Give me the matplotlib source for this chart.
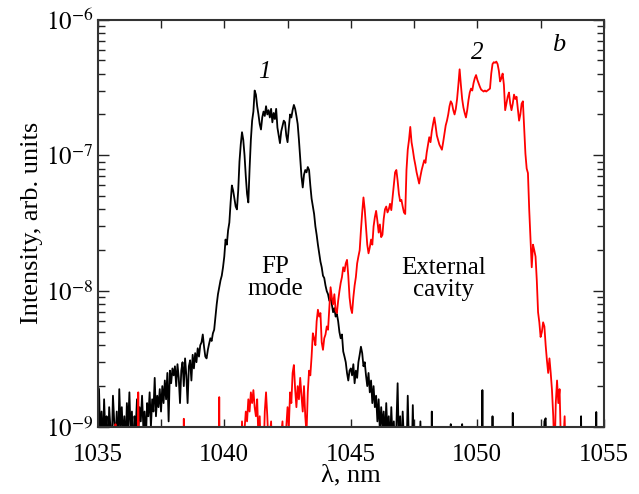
import matplotlib
matplotlib.use("Agg")
import matplotlib.pyplot as plt
import numpy as np
from matplotlib.ticker import MultipleLocator, FixedLocator, FixedFormatter, NullFormatter

# ---------------- data (intensity in units of 1e-9 arb. units) ----------------
black_wl = [
    1035.00, 1035.05, 1035.10, 1035.15, 1035.20, 1035.25, 1035.30, 1035.35, 1035.40, 1035.45,
    1035.50, 1035.55, 1035.60, 1035.65, 1035.70, 1035.75, 1035.80, 1035.85, 1035.90, 1035.95,
    1036.00, 1036.05, 1036.10, 1036.15, 1036.20, 1036.25, 1036.30, 1036.35, 1036.40, 1036.45,
    1036.50, 1036.55, 1036.60, 1036.65, 1036.70, 1036.75, 1036.80, 1036.85, 1036.90, 1036.95,
    1037.00, 1037.05, 1037.10, 1037.15, 1037.20, 1037.25, 1037.30, 1037.35, 1037.40, 1037.45,
    1037.50, 1037.55, 1037.60, 1037.65, 1037.70, 1037.75, 1037.80, 1037.85, 1037.90, 1037.95,
    1038.00, 1038.05, 1038.10, 1038.15, 1038.20, 1038.25, 1038.30, 1038.35, 1038.40, 1038.45,
    1038.50, 1038.55, 1038.60, 1038.65, 1038.70, 1038.75, 1038.80, 1038.85, 1038.90, 1038.95,
    1039.00, 1039.05, 1039.10, 1039.15, 1039.20, 1039.25, 1039.30, 1039.35, 1039.40, 1039.45,
    1039.50, 1039.55, 1039.60, 1039.65, 1039.70, 1039.75, 1039.80, 1039.85, 1039.90, 1039.95,
    1040.00, 1040.05, 1040.10, 1040.15, 1040.20, 1040.25, 1040.30, 1040.35, 1040.40, 1040.45,
    1040.50, 1040.55, 1040.60, 1040.65, 1040.70, 1040.75, 1040.80, 1040.85, 1040.90, 1040.95,
    1041.00, 1041.05, 1041.10, 1041.15, 1041.20, 1041.25, 1041.30, 1041.35, 1041.40, 1041.45,
    1041.50, 1041.55, 1041.60, 1041.65, 1041.70, 1041.75, 1041.80, 1041.85, 1041.90, 1041.95,
    1042.00, 1042.05, 1042.10, 1042.15, 1042.20, 1042.25, 1042.30, 1042.35, 1042.40, 1042.45,
    1042.50, 1042.55, 1042.60, 1042.65, 1042.70, 1042.75, 1042.80, 1042.85, 1042.90, 1042.95,
    1043.00, 1043.05, 1043.10, 1043.15, 1043.20, 1043.25, 1043.30, 1043.35, 1043.40, 1043.45,
    1043.50, 1043.55, 1043.60, 1043.65, 1043.70, 1043.75, 1043.80, 1043.85, 1043.90, 1043.95,
    1044.00, 1044.05, 1044.10, 1044.15, 1044.20, 1044.25, 1044.30, 1044.35, 1044.40, 1044.45,
    1044.50, 1044.55, 1044.60, 1044.65, 1044.70, 1044.75, 1044.80, 1044.85, 1044.90, 1044.95,
    1045.00, 1045.05, 1045.10, 1045.15, 1045.20, 1045.25, 1045.30, 1045.35, 1045.40, 1045.45,
    1045.50, 1045.55, 1045.60, 1045.65, 1045.70, 1045.75, 1045.80, 1045.85, 1045.90, 1045.95,
    1046.00, 1046.05, 1046.10, 1046.15, 1046.20, 1046.25, 1046.30, 1046.35, 1046.40, 1046.45,
    1046.50, 1046.55, 1046.60, 1046.65, 1046.70, 1046.75, 1046.80, 1046.85, 1046.90, 1046.95,
    1047.00, 1047.05, 1047.10, 1047.15, 1047.20, 1047.25, 1047.30, 1047.35, 1047.40, 1047.45,
    1047.50, 1047.60, 1047.70, 1047.75, 1047.80, 1048.00, 1048.18, 1048.20, 1048.22, 1048.93,
    1048.95, 1048.97, 1049.38, 1049.40, 1049.42, 1050.18, 1050.20, 1050.22, 1050.58, 1050.60,
    1050.62, 1051.38, 1051.40, 1051.42, 1052.60, 1052.65, 1052.70, 1052.75, 1054.08, 1054.10,
    1054.12, 1054.68, 1054.70, 1054.72, 1055.00,
]
black_int = [
    2.0, 1.9, 0.8, 1.3, 0.7, 1.6, 0.9, 1.2, 0.6, 1.4,
    1.0, 0.7, 1.7, 1.1, 0.8, 1.3, 0.6, 1.9, 1.0, 1.4,
    0.8, 1.2, 0.7, 1.5, 1.0, 1.8, 0.9, 1.3, 0.6, 1.2,
    1.0, 1.6, 0.9, 1.4, 1.1, 1.7, 1.0, 1.3, 0.8, 1.5,
    1.2, 1.8, 1.0, 1.6, 1.3, 2.3, 1.2, 1.7, 1.4, 1.9,
    1.3, 2.0, 1.5, 2.2, 1.6, 2.5, 1.1, 2.6, 2.1, 2.7,
    2.4, 2.8, 2.0, 2.9, 2.3, 1.5, 2.6, 3.0, 2.0, 3.2,
    2.4, 1.5, 2.8, 3.1, 2.2, 3.4, 2.7, 3.5, 3.0, 3.8,
    3.3, 4.0, 4.2, 4.8, 3.9, 3.3, 3.2, 3.7, 4.1, 4.5,
    4.3, 4.9, 5.2, 6.5, 8.0, 9.5, 10.7, 12.0, 13.0, 15.0,
    18.0, 24.0, 22.0, 28.0, 32.0, 45.0, 60.0, 55.0, 48.0, 42.0,
    40.0, 55.0, 90.0, 120.0, 148.0, 130.0, 100.0, 70.0, 52.0, 45.0,
    80.0, 130.0, 180.0, 210.0, 300.0, 280.0, 230.0, 200.0, 170.0, 155.0,
    190.0, 210.0, 195.0, 230.0, 200.0, 215.0, 190.0, 220.0, 175.0, 205.0,
    185.0, 220.0, 160.0, 140.0, 123.0, 150.0, 165.0, 180.0, 175.0, 140.0,
    125.0, 160.0, 200.0, 190.0, 215.0, 235.0, 220.0, 195.0, 170.0, 130.0,
    95.0, 70.0, 58.0, 72.0, 78.0, 75.0, 82.0, 78.0, 60.0, 48.0,
    42.0, 37.0, 30.0, 26.0, 22.0, 19.0, 16.5, 15.0, 13.0, 12.5,
    11.0, 10.0, 9.5, 8.5, 9.0, 8.0, 7.0, 7.5, 6.5, 6.8,
    6.0, 5.0, 4.5, 4.8, 3.6, 3.3, 3.0, 2.5, 2.2, 2.6,
    2.7, 2.4, 2.9, 2.1, 2.6, 2.3, 3.0, 3.4, 3.9, 3.5,
    2.8, 3.0, 2.4, 2.0, 2.5, 1.8, 2.2, 1.5, 2.0, 1.4,
    1.7, 1.1, 1.6, 0.9, 1.4, 1.0, 1.3, 0.8, 1.5, 0.9,
    1.2, 0.7, 1.4, 0.8, 1.1, 0.6, 1.0, 2.1, 0.7, 1.2,
    0.6, 1.3, 0.8, 1.0, 0.6, 1.7, 0.7, 0.9, 0.5, 1.45,
    0.6, 0.8, 0.5, 1.1, 0.5, 0.5, 0.5, 1.3, 0.5, 0.5,
    1.05, 0.5, 0.5, 1.05, 0.5, 0.5, 1.87, 0.5, 0.5, 1.2,
    0.5, 0.5, 1.27, 0.5, 0.5, 1.1, 1.16, 0.5, 0.5, 1.2,
    0.5, 0.5, 1.29, 0.5, 0.5,
]

red_wl = [
    1035.00, 1035.68, 1035.70, 1035.72, 1036.58, 1036.60, 1036.63, 1038.38, 1038.40, 1038.42,
    1039.78, 1039.80, 1039.82, 1040.65, 1040.70, 1040.75, 1040.85, 1040.90, 1040.95, 1041.00,
    1041.05, 1041.10, 1041.15, 1041.20, 1041.25, 1041.30, 1041.35, 1041.40, 1041.45, 1041.55,
    1041.60, 1041.65, 1041.70, 1041.75, 1041.85, 1041.90, 1042.10, 1042.15, 1042.20, 1042.30,
    1042.35, 1042.45, 1042.50, 1042.55, 1042.60, 1042.65, 1042.70, 1042.75, 1042.80, 1042.85,
    1042.90, 1042.95, 1043.00, 1043.05, 1043.10, 1043.15, 1043.20, 1043.25, 1043.30, 1043.35,
    1043.40, 1043.45, 1043.50, 1043.55, 1043.60, 1043.65, 1043.70, 1043.75, 1043.80, 1043.85,
    1043.90, 1043.95, 1044.00, 1044.05, 1044.10, 1044.15, 1044.20, 1044.25, 1044.30, 1044.35,
    1044.40, 1044.45, 1044.50, 1044.55, 1044.60, 1044.65, 1044.70, 1044.75, 1044.80, 1044.85,
    1044.90, 1044.95, 1045.00, 1045.05, 1045.10, 1045.15, 1045.20, 1045.25, 1045.30, 1045.35,
    1045.40, 1045.45, 1045.50, 1045.55, 1045.60, 1045.65, 1045.70, 1045.75, 1045.80, 1045.85,
    1045.90, 1045.95, 1046.00, 1046.05, 1046.10, 1046.15, 1046.20, 1046.25, 1046.30, 1046.35,
    1046.40, 1046.45, 1046.50, 1046.55, 1046.60, 1046.65, 1046.70, 1046.75, 1046.80, 1046.85,
    1046.90, 1046.95, 1047.00, 1047.05, 1047.10, 1047.15, 1047.20, 1047.25, 1047.30, 1047.35,
    1047.40, 1047.45, 1047.50, 1047.55, 1047.60, 1047.65, 1047.70, 1047.75, 1047.80, 1047.85,
    1047.90, 1047.95, 1048.00, 1048.05, 1048.10, 1048.15, 1048.20, 1048.25, 1048.30, 1048.35,
    1048.40, 1048.45, 1048.50, 1048.55, 1048.60, 1048.65, 1048.70, 1048.75, 1048.80, 1048.85,
    1048.90, 1048.95, 1049.00, 1049.05, 1049.10, 1049.15, 1049.20, 1049.25, 1049.30, 1049.35,
    1049.40, 1049.45, 1049.50, 1049.55, 1049.60, 1049.65, 1049.70, 1049.75, 1049.80, 1049.85,
    1049.90, 1049.95, 1050.00, 1050.05, 1050.10, 1050.15, 1050.20, 1050.25, 1050.30, 1050.35,
    1050.40, 1050.45, 1050.50, 1050.55, 1050.60, 1050.65, 1050.70, 1050.75, 1050.80, 1050.85,
    1050.90, 1050.95, 1051.00, 1051.05, 1051.10, 1051.15, 1051.20, 1051.25, 1051.30, 1051.35,
    1051.40, 1051.45, 1051.50, 1051.55, 1051.60, 1051.65, 1051.70, 1051.75, 1051.80, 1051.85,
    1051.90, 1051.95, 1052.00, 1052.05, 1052.10, 1052.15, 1052.20, 1052.25, 1052.30, 1052.35,
    1052.40, 1052.45, 1052.50, 1052.55, 1052.60, 1052.65, 1052.70, 1052.75, 1052.80, 1052.85,
    1052.90, 1052.95, 1053.00, 1053.05, 1053.10, 1053.15, 1053.20, 1053.25, 1053.30, 1053.35,
    1053.45, 1053.50, 1055.00,
]
red_int = [
    0.5, 0.5, 1.05, 0.5, 0.5, 1.8, 0.5, 0.5, 1.15, 0.5,
    0.5, 1.66, 0.5, 0.5, 1.1, 0.7, 1.3, 1.1, 1.6, 1.3,
    1.8, 1.5, 1.87, 1.4, 1.2, 1.6, 0.8, 1.2, 0.6, 0.6,
    1.3, 1.8, 1.2, 0.7, 1.1, 0.6, 0.6, 1.0, 0.7, 1.1,
    0.6, 1.0, 1.4, 1.0, 1.8, 1.5, 2.5, 2.86, 1.9, 1.4,
    2.0, 1.6, 2.3, 1.7, 1.3, 2.0, 1.2, 0.9, 1.8, 2.6,
    2.4, 3.3, 4.9, 4.5, 4.0, 6.0, 7.3, 6.5, 6.9, 4.2,
    3.7, 4.5, 4.8, 5.5, 5.2, 7.5, 10.7, 9.0, 8.0, 9.5,
    7.2, 6.9, 8.5, 10.0, 11.5, 12.7, 15.0, 14.0, 16.0, 17.0,
    13.0, 9.0, 7.5, 6.9, 9.0, 11.0, 12.7, 16.0, 18.0, 20.0,
    28.0, 38.0, 49.0, 40.0, 30.0, 22.0, 19.0, 21.0, 24.0, 22.0,
    30.0, 35.0, 39.0, 33.0, 27.0, 31.0, 25.0, 26.0, 34.0, 40.0,
    42.0, 38.0, 40.0, 44.0, 39.5, 49.0, 60.0, 75.0, 78.0, 65.0,
    52.0, 46.0, 47.0, 42.0, 38.0, 37.0, 78.0, 110.0, 130.0, 162.0,
    125.0, 110.0, 95.0, 85.0, 75.0, 68.0, 62.0, 70.0, 78.0, 85.0,
    92.0, 88.0, 105.0, 120.0, 136.0, 125.0, 150.0, 170.0, 190.0, 165.0,
    140.0, 130.0, 120.0, 115.0, 110.0, 125.0, 145.0, 166.0, 180.0, 200.0,
    230.0, 250.0, 240.0, 215.0, 200.0, 220.0, 260.0, 330.0, 430.0, 330.0,
    260.0, 225.0, 205.0, 190.0, 215.0, 255.0, 290.0, 310.0, 300.0, 340.0,
    370.0, 390.0, 360.0, 340.0, 320.0, 305.0, 300.0, 295.0, 300.0, 295.0,
    300.0, 305.0, 310.0, 400.0, 470.0, 485.0, 480.0, 490.0, 470.0, 420.0,
    350.0, 370.0, 400.0, 330.0, 215.0, 240.0, 270.0, 290.0, 240.0, 215.0,
    240.0, 280.0, 260.0, 270.0, 220.0, 180.0, 200.0, 240.0, 250.0, 160.0,
    103.0, 80.0, 74.0, 40.0, 24.0, 15.0, 22.0, 20.0, 18.0, 12.0,
    7.0, 5.9, 4.6, 5.0, 5.9, 5.5, 4.0, 3.1, 2.5, 3.2,
    2.5, 1.87, 1.2, 0.6, 1.5, 2.2, 1.5, 1.9, 0.8, 0.5,
    1.2, 0.5, 0.5,
]

x_ticks = [1035, 1040, 1045, 1050, 1055]
y_ticks = [1e-9, 1e-8, 1e-7, 1e-6]
y_tick_labels = [r'$10^{-9}$', r'$10^{-8}$', r'$10^{-7}$', r'$10^{-6}$']
y_unit = 1e-9

# ---------------- figure ----------------
plt.rcParams['font.family'] = 'serif'
plt.rcParams['font.serif'] = ['Liberation Serif', 'DejaVu Serif']
plt.rcParams['mathtext.fontset'] = 'stix'

fig = plt.figure(figsize=(6.39, 4.94), dpi=100)
ax = fig.add_axes([0.153, 0.1356, 0.792, 0.8249])

ax.plot(black_wl, np.array(black_int) * y_unit, color='black', lw=1.3)
ax.plot(red_wl, np.array(red_int) * y_unit, color='red', lw=1.3)

ax.set_yscale('log')
ax.set_xlim(1035, 1055)
ax.set_ylim(1e-9, 1e-6)

ax.set_xticks(x_ticks)
ax.xaxis.set_minor_locator(FixedLocator([1037.5, 1042.5, 1047.5, 1052.5]))
ax.yaxis.set_major_locator(FixedLocator(y_ticks))
ax.yaxis.set_major_formatter(FixedFormatter(y_tick_labels))
minor_y = [m * 10.0 ** e for e in (-9, -8, -7) for m in range(2, 10)]
ax.yaxis.set_minor_locator(FixedLocator(minor_y))
ax.yaxis.set_minor_formatter(NullFormatter())
ax.xaxis.set_minor_formatter(NullFormatter())

ax.tick_params(axis='both', which='both', direction='in', top=True, right=True,
               labelsize=18, colors='#222222', width=1.0)
ax.tick_params(axis='x', which='major', length=6, pad=12)
ax.tick_params(axis='x', which='minor', length=6)
ax.tick_params(axis='y', which='major', length=8, pad=3)
ax.tick_params(axis='y', which='minor', length=5)
for lab in ax.get_xticklabels() + ax.get_yticklabels():
    lab.set_color('black')

for s in ax.spines.values():
    s.set_linewidth(1.5)
    s.set_color('#333333')

ax.set_xlabel('λ, nm', fontsize=19, labelpad=-1)
ax.set_ylabel('Intensity, arb. units', fontsize=19, labelpad=2)

ax.text(1041.6, 4.1e-7, '1', fontsize=18, style='italic', ha='center', va='center')
ax.text(1049.98, 5.7e-7, '2', fontsize=18, style='italic', ha='center', va='center')
ax.text(1053.2, 6.5e-7, 'b', fontsize=19, style='italic', ha='center', va='center')
ax.text(1042.0, 1.26e-8, 'FP\nmode', fontsize=18, ha='center', va='center', linespacing=1.0)
ax.text(1048.67, 1.23e-8, 'External\ncavity', fontsize=18, ha='center', va='center', linespacing=1.0)

fig.savefig('out.png', dpi=100)
